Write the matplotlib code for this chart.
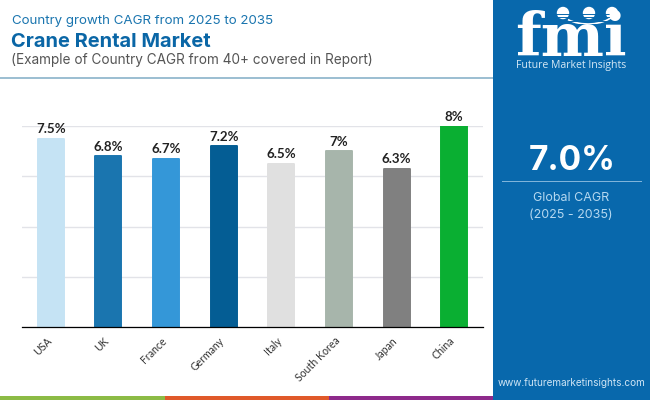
import numpy as np
import matplotlib
matplotlib.use('Agg')
import matplotlib.pyplot as plt
from matplotlib.patches import Rectangle, Circle, Arc
from matplotlib.transforms import ScaledTranslation

countries = ['USA', 'UK', 'France', 'Germany', 'Italy', 'South Korea', 'Japan', 'China']
cagr = [7.5, 6.8, 6.7, 7.2, 6.5, 7.0, 6.3, 8.0]
labels = ['7.5%', '6.8%', '6.7%', '7.2%', '6.5%', '7%', '6.3%', '8%']
colors = ['#C5E3F4', '#1A75AF', '#3497D8', '#045D94', '#E0E0E0', '#A7B5AB', '#808080', '#0AAF32']
yticks = [0, 2, 4, 6, 8]

W, H = 650, 400
panel = '#0868AC'

fig = plt.figure(figsize=(W/100, H/100), dpi=100)

# background layer in pixel coords
bg = fig.add_axes([0, 0, 1, 1])
bg.set_xlim(0, W)
bg.set_ylim(H, 0)
bg.axis('off')

bg.add_patch(Rectangle((493, 0), 157, 400, color=panel, lw=0))
bg.add_patch(Rectangle((0, 77), 493, 2, color='#9DBFD2', lw=0))
bg.add_patch(Rectangle((0, 396), 165, 4, color='#8CBB45', lw=0))
bg.add_patch(Rectangle((165, 396), 164, 4, color='#E0592A', lw=0))
bg.add_patch(Rectangle((329, 396), 164, 4, color='#8E2A8B', lw=0))

# header
bg.text(12, 24, 'Country growth CAGR from 2025 to 2035', color='#1A75AF', fontsize=9.6,
        family='Inter', va='baseline')
bg.text(11, 47, 'Crane Rental Market', color='#0A66A6', fontsize=14.4, family='Inter',
        weight='bold', va='baseline')
bg.text(11, 64, '(Example of Country CAGR from 40+ covered in Report)', color='#555555',
        fontsize=9.8, family='Inter', va='baseline')

# logo
bg.text(571, 56, 'fmi', color='white', fontsize=43, family='DejaVu Serif', weight='bold',
        ha='center', va='baseline')
for y in np.arange(14, 56, 3.4):
    bg.plot([512, 630], [y, y], color=panel, lw=0.7)
for cx in [563, 589, 612]:
    bg.add_patch(Circle((cx, 13), 6.2, color='white', lw=0))
bg.add_patch(Arc((588, 8), 58, 32, theta1=20, theta2=150, color='white', lw=1.2))
bg.text(571, 68, 'Future Market Insights', color='#D5E8F5', fontsize=7.6, family='Open Sans',
        ha='center', va='baseline')

# side panel
bg.text(572, 170, '7.0%', color='white', fontsize=24, family='Inter', weight='bold',
        ha='center', va='baseline')
bg.add_patch(Rectangle((502, 180.5), 140, 1.5, color='#7FB4DA', lw=0))
bg.text(571, 201, 'Global CAGR', color='#B5D8F0', fontsize=9, family='Inter',
        ha='center', va='baseline')
bg.text(571, 218, '(2025 - 2035)', color='#B5D8F0', fontsize=9, family='Inter',
        ha='center', va='baseline')
bg.text(572, 386, 'www.futuremarketinsights.com', color='#CFE5F5', fontsize=7.2, family='Inter',
        ha='center', va='baseline')

# chart
ax = fig.add_axes([22/W, 1 - 327/H, 461/W, 201/H])
ax.patch.set_alpha(0)
x = np.arange(len(countries))
bars = ax.bar(x, cagr, width=0.45, color=colors, edgecolor=colors, linewidth=1.4, zorder=2)
for b in bars:
    b.set_joinstyle('round')
for i, v in enumerate(cagr):
    ax.annotate(labels[i], (x[i], v), xytext=(0, 2.5), textcoords='offset points', ha='center',
                va='bottom', fontsize=9.6, family='Lato', weight='bold', color='#222222')

ax.set_xlim(-0.5, 7.5)
ax.set_ylim(0, 8)
ax.set_yticks(yticks)
ax.set_yticklabels([])
ax.grid(axis='y', color='#E2E3E8', lw=1, zorder=0)
ax.set_axisbelow(True)
ax.tick_params(axis='both', length=0)
ax.set_xticks(x)
ax.set_xticklabels(countries, rotation=45, ha='right', rotation_mode='anchor', fontsize=7.6,
                   family='Lato', color='#333333')
ax.tick_params(axis='x', pad=6)
# nudge the rotated labels left to sit under the bars like the original
shift = ScaledTranslation(-3.5/72, 0, fig.dpi_scale_trans)
for t in ax.get_xticklabels():
    t.set_transform(t.get_transform() + shift)
for s in ['top', 'left', 'right']:
    ax.spines[s].set_visible(False)
ax.spines['bottom'].set_linewidth(0.9)
ax.spines['bottom'].set_color('black')

fig.savefig('out.png', dpi=100)
